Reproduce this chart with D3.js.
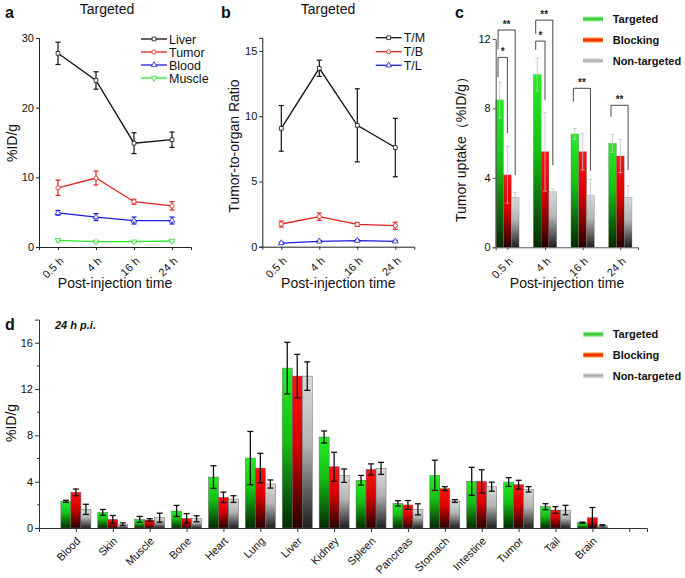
<!DOCTYPE html>
<html><head><meta charset="utf-8">
<script src="https://cdn.jsdelivr.net/npm/d3@7"></script>
<style>body{margin:0;background:#fff}svg{display:block;font-family:"Liberation Sans",Arial,sans-serif}</style>
</head><body>
<script>
// ---------- DATA ----------
const times = ["0.5 h", "4 h", "16 h", "24 h"];
// panel a (%ID/g, targeted)
const liverMean = [27.8, 23.9, 14.9, 15.4];
const liverErr = [1.6, 1.25, 1.5, 1.1];
const tumorMean = [8.5, 9.9, 6.5, 5.9];
const tumorErr = [1.1, 1.0, 0.35, 0.6];
const bloodMean = [4.9, 4.3, 3.8, 3.8];
const bloodErr = [0.33, 0.5, 0.5, 0.5];
const muscleMean = [0.96, 0.77, 0.77, 0.86];
const muscleErr = [0.2, 0.15, 0.12, 0.15];
const aTicks = [0, 10, 20, 30];
// panel b (tumor-to-organ ratio)
const tmMean = [9.07, 13.67, 9.3, 7.6];
const tmErr = [1.75, 0.62, 2.8, 2.24];
const tbMean = [1.74, 2.3, 1.71, 1.61];
const tbErr = [0.23, 0.28, 0.15, 0.27];
const tlMean = [0.28, 0.41, 0.46, 0.41];
const tlErr = [0.07, 0.07, 0.07, 0.07];
const bTicks = [0, 5, 10, 15];
// panel c (tumor uptake)
const targetedC = [8.49, 9.95, 6.53, 5.99];
const targetedCErr = [1.03, 0.95, 0.32, 0.52];
const blockingC = [4.17, 5.51, 5.51, 5.26];
const blockingCErr = [1.63, 2.27, 1.06, 0.96];
const nonTargetedC = [2.88, 3.2, 3.01, 2.88];
const nonTargetedCErr = [0.27, 0.16, 0.91, 0.67];
const cTicks = [0, 4, 8, 12];
const sigGroup = [0, 0, 1, 1, 2, 3];
const sigTo = [2, 1, 2, 1, 2, 2];
const sigTop = [12.52, 10.94, 13.09, 11.88, 9.16, 8.18];
const sigLeftEnd = [11.4, 9.8, 12.3, 11.37, 8.39, 7.52];
const sigRightEnd = [4.16, 6.58, 4.74, 8.5, 4.41, 4.45];
const sigLabel = ["**", "*", "**", "*", "**", "**"];
// panel d (biodistribution 24 h p.i.)
const organs = ["Blood","Skin","Muscle","Bone","Heart","Lung","Liver","Kidney","Spleen","Pancreas","Stomach","Intestine","Tumor","Tail","Brain",""];
const targetedD = [2.3,1.35,0.75,1.47,4.4,6.04,13.81,7.86,4.12,2.13,4.55,4.03,3.97,1.84,0.46];
const targetedDErr = [0.09,0.25,0.25,0.48,0.98,2.3,2.23,0.52,0.42,0.23,1.31,1.21,0.38,0.26,0.05];
const blockingD = [3.08,0.75,0.69,0.83,2.65,5.18,13.12,5.29,5.06,1.99,3.4,4.03,3.74,1.55,0.89];
const blockingDErr = [0.29,0.33,0.11,0.41,0.45,1.27,1.88,1.25,0.48,0.38,0.17,1.0,0.38,0.29,0.88];
const nonTargetedD = [1.61,0.32,0.89,0.8,2.5,3.8,13.12,4.52,5.15,1.61,2.33,3.57,3.34,1.55,0.23];
const nonTargetedDErr = [0.44,0.12,0.39,0.26,0.29,0.35,1.23,0.58,0.52,0.48,0.12,0.39,0.23,0.41,0.05];
const dTicks = [0, 4, 8, 12, 16];
const dMinor = [2, 6, 10, 14];
const groupNames = ["Targeted", "Blocking", "Non-targeted"];

// ---------- SETUP ----------
const W = 685, H = 578;
const svg = d3.select("body").append("svg").attr("width", W).attr("height", H);
const defs = svg.append("defs");
function vgrad(id, stops) {
  const g = defs.append("linearGradient").attr("id", id).attr("x1", 0).attr("y1", 0).attr("x2", 0).attr("y2", 1);
  stops.forEach(s => g.append("stop").attr("offset", s[0]).attr("stop-color", s[1]));
}
vgrad("gG", [[0, "#24ee24"], [0.45, "#14c014"], [1, "#022802"]]);
vgrad("gR", [[0, "#ff1414"], [0.45, "#d80000"], [1, "#260000"]]);
vgrad("gK", [[0, "#dadada"], [0.45, "#b4b4b4"], [1, "#1e1e1e"]]);
vgrad("lG", [[0, "#9ae89a"], [0.5, "#2ccc2c"], [1, "#9ae89a"]]);
vgrad("lR", [[0, "#ff9a20"], [0.5, "#ee1a00"], [1, "#ff9a20"]]);
vgrad("lK", [[0, "#e4e4e4"], [0.5, "#a8a8a8"], [1, "#e4e4e4"]]);
const barFill = ["url(#gG)", "url(#gR)", "url(#gK)"];
const legFill = ["url(#lG)", "url(#lR)", "url(#lK)"];

function styleAxis(g, color) {
  g.selectAll("path.domain").attr("stroke", color).attr("stroke-width", 1);
  g.selectAll(".tick line").attr("stroke", color);
  g.selectAll(".tick text").attr("fill", "#111").attr("font-size", 11).attr("font-family", '"Liberation Sans",Arial,sans-serif');
}
function text(x, y, s, opts) {
  const t = svg.append("text").attr("x", x).attr("y", y).text(s).attr("fill", "#111");
  Object.entries(opts || {}).forEach(([k, v]) => t.attr(k, v));
  return t;
}
function rotLabels(g, dx, dy) {
  g.selectAll(".tick text").attr("text-anchor", "end")
    .attr("transform", `translate(${dx},${dy}) rotate(-45)`).attr("x", 0).attr("y", 0).attr("dy", "0.35em");
}

// ---------- LINE PANELS ----------
function linePanel(cfg) {
  const x = d3.scaleLinear().domain([-0.5, 3.5]).range([cfg.x0, cfg.x0 + 152]);
  const y = d3.scaleLinear().domain(cfg.yDomain).range(cfg.yRange);
  const gx = svg.append("g").attr("transform", `translate(0,${cfg.yRange[0]})`)
    .call(d3.axisBottom(x).tickValues([0, 1, 2, 3]).tickFormat(i => times[i]).tickSizeOuter(0).tickSize(3));
  styleAxis(gx, "#222");
  rotLabels(gx, 3, 12);
  const gy = svg.append("g").attr("transform", `translate(${cfg.x0},0)`)
    .call(d3.axisLeft(y).tickValues(cfg.ticks).tickSizeOuter(0).tickSize(3));
  styleAxis(gy, "#222");
  gy.selectAll(".tick text").attr("x", -5);
  cfg.series.forEach(s => {
    const pts = s.mean.map((m, i) => ({i, m, e: s.err[i]}));
    const g = svg.append("g");
    g.append("path").datum(pts).attr("fill", "none").attr("stroke", s.color).attr("stroke-width", 1.3)
      .attr("d", d3.line().x(d => x(d.i)).y(d => y(d.m)));
    pts.forEach(d => {
      const cx = x(d.i), y1 = y(d.m + d.e), y2 = y(d.m - d.e);
      g.append("line").attr("x1", cx).attr("x2", cx).attr("y1", y1).attr("y2", y2).attr("stroke", s.color).attr("stroke-width", 1.2);
      [y1, y2].forEach(yy => g.append("line").attr("x1", cx - 2.5).attr("x2", cx + 2.5).attr("y1", yy).attr("y2", yy).attr("stroke", s.color).attr("stroke-width", 1.2));
    });
    g.selectAll("path.mk").data(pts).join("path").attr("class", "mk")
      .attr("d", d3.symbol().type(s.sym).size(14)).attr("transform", d => `translate(${x(d.i)},${y(d.m)})${s.rot ? " rotate(180)" : ""}`)
      .attr("fill", "#fff").attr("stroke", s.color).attr("stroke-width", 0.8);
  });
  // legend
  cfg.series.forEach((s, k) => {
    const ly = cfg.legY[k];
    svg.append("line").attr("x1", cfg.legX).attr("x2", cfg.legX + 26).attr("y1", ly).attr("y2", ly).attr("stroke", s.color).attr("stroke-width", 1.3);
    svg.append("path").attr("d", d3.symbol().type(s.sym).size(14)).attr("transform", `translate(${cfg.legX + 13},${ly})${s.rot ? " rotate(180)" : ""}`)
      .attr("fill", "#fff").attr("stroke", s.color).attr("stroke-width", 0.8);
    text(cfg.legX + 28, ly + 4.5, s.name, {"font-size": 12.5});
  });
  text(cfg.x0 + 76, 288, "Post-injection time", {"font-size": 14, "text-anchor": "middle"});
}

linePanel({
  x0: 39, yDomain: [0, 30], yRange: [247, 38], ticks: aTicks,
  legX: 141, legY: [39, 52, 65, 78],
  series: [
    {name: "Liver", mean: liverMean, err: liverErr, color: "#111", sym: d3.symbolSquare},
    {name: "Tumor", mean: tumorMean, err: tumorErr, color: "#e3211c", sym: d3.symbolCircle},
    {name: "Blood", mean: bloodMean, err: bloodErr, color: "#1c1ce0", sym: d3.symbolTriangle},
    {name: "Muscle", mean: muscleMean, err: muscleErr, color: "#2ee82e", sym: d3.symbolTriangle, rot: true}
  ]
});
linePanel({
  x0: 262.3, yDomain: [0, 16], yRange: [246.7, 37.9], ticks: bTicks,
  legX: 375.7, legY: [37.7, 51.7, 65.3],
  series: [
    {name: "T/M", mean: tmMean, err: tmErr, color: "#111", sym: d3.symbolSquare},
    {name: "T/B", mean: tbMean, err: tbErr, color: "#e3211c", sym: d3.symbolCircle},
    {name: "T/L", mean: tlMean, err: tlErr, color: "#1c1ce0", sym: d3.symbolTriangle}
  ]
});

text(5, 18, "a", {"font-size": 16, "font-weight": "bold"});
text(221, 18, "b", {"font-size": 16, "font-weight": "bold"});
text(455, 18, "c", {"font-size": 16, "font-weight": "bold"});
text(107, 14, "Targeted", {"font-size": 14, "text-anchor": "middle"});
text(328, 14, "Targeted", {"font-size": 14, "text-anchor": "middle"});
text(0, 0, "%ID/g", {"font-size": 14, "text-anchor": "middle", transform: "translate(17,143) rotate(-90)"});
text(0, 0, "Tumor-to-organ Ratio", {"font-size": 14, "text-anchor": "middle", transform: "translate(239,146) rotate(-90)"});
text(0, 0, "Tumor uptake（%ID/g）", {"font-size": 14, "text-anchor": "middle", transform: "translate(466,146) rotate(-90)"});

// ---------- PANEL C ----------
{
  const x = d3.scaleLinear().domain([-0.31, 3.47]).range([495.7, 638]);
  const y = d3.scaleLinear().domain([0, 12]).range([247.3, 39]);
  const bw = 7.8;
  const series = [[targetedC, targetedCErr], [blockingC, blockingCErr], [nonTargetedC, nonTargetedCErr]];
  const cx = (g, k) => x(g) + (k - 1) * bw;
  series.forEach((s, k) => {
    s[0].forEach((v, g) => {
      svg.append("rect").attr("x", cx(g, k) - bw / 2).attr("width", bw).attr("y", y(v)).attr("height", y(0) - y(v))
        .attr("fill", barFill[k]).attr("stroke", "#777").attr("stroke-width", 0.3);
    });
  });
  series.forEach((s, k) => {
    s[0].forEach((v, g) => {
      const e = s[1][g], xx = cx(g, k);
      svg.append("line").attr("x1", xx).attr("x2", xx).attr("y1", y(v + e)).attr("y2", y(v - e)).attr("stroke", "#c4c4c4").attr("stroke-width", 0.8);
      [v + e, v - e].forEach(t => svg.append("line").attr("x1", xx - 2).attr("x2", xx + 2).attr("y1", y(t)).attr("y2", y(t)).attr("stroke", "#c4c4c4").attr("stroke-width", 0.8));
    });
  });
  const gx = svg.append("g").attr("transform", `translate(0,${y(0)})`)
    .call(d3.axisBottom(x).tickValues([0, 1, 2, 3]).tickFormat(i => times[i]).tickSizeOuter(0).tickSize(3));
  styleAxis(gx, "#555");
  rotLabels(gx, 3, 12);
  const gy = svg.append("g").attr("transform", `translate(495.7,0)`)
    .call(d3.axisLeft(y).tickValues(cTicks).tickSizeOuter(0).tickSize(3));
  styleAxis(gy, "#555");
  gy.selectAll(".tick text").attr("x", -5);
  // significance brackets
  sigGroup.forEach((g, i) => {
    const xl = cx(g, 0) - 1.5, xr = cx(g, sigTo[i]), yt = y(sigTop[i]);
    svg.append("path").attr("fill", "none").attr("stroke", "#333").attr("stroke-width", 0.9)
      .attr("d", `M${xl},${y(sigLeftEnd[i])}V${yt}H${xr}V${y(sigRightEnd[i])}`);
    text((xl + xr) / 2, yt - 2, sigLabel[i], {"font-size": 10, "text-anchor": "middle", "font-weight": "bold", fill: "#222"});
  });
  text(567, 288, "Post-injection time", {"font-size": 14, "text-anchor": "middle"});
  groupNames.forEach((n, k) => {
    const ly = [19, 40, 60.7][k];
    svg.append("rect").attr("x", 583).attr("y", ly - 2.5).attr("width", 20).attr("height", 5).attr("fill", legFill[k]);
    text(612.7, ly + 4, n, {"font-size": 11, "font-weight": "bold"});
  });
}

// ---------- PANEL D ----------
{
  const x = d3.scaleLinear().domain([-1, 15.48]).range([39, 647]);
  const y = d3.scaleLinear().domain([0, 18]).range([528, 319.6]);
  const bw = 10;
  const series = [[targetedD, targetedDErr], [blockingD, blockingDErr], [nonTargetedD, nonTargetedDErr]];
  const cx = (i, k) => x(i) + (k - 1) * bw;
  series.forEach((s, k) => {
    s[0].forEach((v, i) => {
      svg.append("rect").attr("x", cx(i, k) - bw / 2).attr("width", bw).attr("y", y(v)).attr("height", y(0) - y(v))
        .attr("fill", barFill[k]).attr("stroke", "#666").attr("stroke-width", 0.5);
    });
  });
  series.forEach((s, k) => {
    s[0].forEach((v, i) => {
      const e = s[1][i], xx = cx(i, k);
      svg.append("line").attr("x1", xx).attr("x2", xx).attr("y1", y(v + e)).attr("y2", y(Math.max(0, v - e))).attr("stroke", "#111").attr("stroke-width", 1.3);
      [v + e, Math.max(0, v - e)].forEach(t => svg.append("line").attr("x1", xx - 3).attr("x2", xx + 3).attr("y1", y(t)).attr("y2", y(t)).attr("stroke", "#111").attr("stroke-width", 1.3));
    });
  });
  const gx = svg.append("g").attr("transform", `translate(0,${y(0)})`)
    .call(d3.axisBottom(x).tickValues(d3.range(-1, 16)).tickFormat(i => i >= 0 ? organs[i] : "").tickSizeOuter(0).tickSize(4));
  styleAxis(gx, "#333");
  rotLabels(gx, 2, 11);
  const gy = svg.append("g").attr("transform", `translate(39,0)`)
    .call(d3.axisLeft(y).tickValues(dTicks).tickSizeOuter(0).tickSize(4));
  styleAxis(gy, "#333");
  gy.selectAll(".tick text").attr("x", -6);
  gy.selectAll("line.minor").data(dMinor).join("line").attr("class", "minor")
    .attr("x1", -2).attr("x2", 0).attr("y1", d => y(d)).attr("y2", d => y(d)).attr("stroke", "#333");
  text(5, 330, "d", {"font-size": 16, "font-weight": "bold"});
  text(55, 329, "24 h p.i.", {"font-size": 11, "font-weight": "bold", "font-style": "italic"});
  text(0, 0, "%ID/g", {"font-size": 14, "text-anchor": "middle", transform: "translate(16,423) rotate(-90)"});
  groupNames.forEach((n, k) => {
    const ly = [334.3, 355, 375.7][k];
    svg.append("rect").attr("x", 583.3).attr("y", ly - 2.5).attr("width", 20).attr("height", 5).attr("fill", legFill[k]);
    text(612.7, ly + 4, n, {"font-size": 11, "font-weight": "bold"});
  });
}
</script>
</body></html>
